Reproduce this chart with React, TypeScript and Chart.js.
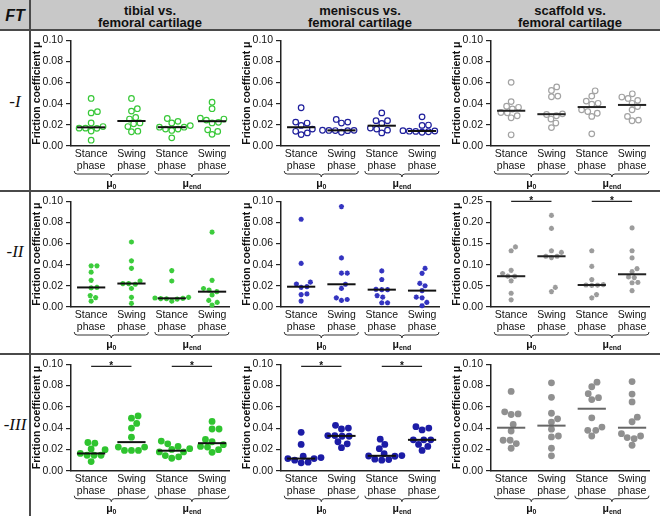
import React, { useEffect, useRef } from 'react';
import { Chart, registerables } from 'chart.js';
Chart.register(...registerables);

const FONT = "'Liberation Sans', Arial, Helvetica, sans-serif";

// ---------- texts ----------
const cornerLabel = 'FT';
const columnTitles = [
  ['tibial vs.', 'femoral cartilage'],
  ['meniscus vs.', 'femoral cartilage'],
  ['scaffold vs.', 'femoral cartilage'],
];
const rowLabels = ['-I', '-II', '-III'];
const categoryLines = [
  ['Stance', 'phase'],
  ['Swing', 'phase'],
  ['Stance', 'phase'],
  ['Swing', 'phase'],
];
const groupPairs = [
  [0, 1],
  [2, 3],
];
const groupLabels = [
  ['μ', '0'],
  ['μ', 'end'],
];
const yTitle = 'Friction coefficient μ';
const sigSymbol = '*';

// ---------- axes ----------
const yMaxes = [
  [0.1, 0.1, 0.1],
  [0.1, 0.1, 0.25],
  [0.1, 0.1, 0.1],
];
const ySteps = [
  [0.02, 0.02, 0.02],
  [0.02, 0.02, 0.05],
  [0.02, 0.02, 0.02],
];
const sigMarks: number[][][][] = [
  [[], [], []],
  [[], [], [[0, 1], [2, 3]]],
  [[[0, 1], [2, 3]], [[0, 1], [2, 3]], []],
];
const sigLevels = [
  [0, 0, 0],
  [0, 0, 0.25],
  [0.098, 0.098, 0],
];

// ---------- data: [stance μ0, swing μ0, stance μend, swing μend] ----------
const tibial_I = [
  [0.045, 0.0325, 0.0313, 0.0218, 0.0184, 0.0169, 0.0169, 0.0167, 0.0141, 0.0055],
  [0.045, 0.0353, 0.033, 0.027, 0.0255, 0.0218, 0.021, 0.0184, 0.014, 0.0135],
  [0.026, 0.0233, 0.0218, 0.0193, 0.0178, 0.0178, 0.016, 0.016, 0.0147, 0.0077],
  [0.0414, 0.0353, 0.0264, 0.0255, 0.0245, 0.0224, 0.0218, 0.0153, 0.0138, 0.011],
];
const meniscus_I = [
  [0.0362, 0.0226, 0.0217, 0.0195, 0.016, 0.0139, 0.0124, 0.0108],
  [0.0251, 0.0226, 0.0217, 0.0149, 0.0148, 0.0147, 0.0146, 0.0145, 0.013],
  [0.0313, 0.024, 0.024, 0.0214, 0.017, 0.016, 0.015, 0.0124],
  [0.0276, 0.0198, 0.0195, 0.0145, 0.0142, 0.014, 0.0138, 0.0135, 0.013],
];
const scaffold_I = [
  [0.0602, 0.042, 0.0376, 0.0366, 0.035, 0.0317, 0.0314, 0.0286, 0.0267, 0.0106],
  [0.0559, 0.0525, 0.0472, 0.0466, 0.0304, 0.0298, 0.0286, 0.0255, 0.0217, 0.0174],
  [0.0522, 0.0472, 0.0425, 0.0404, 0.0395, 0.0342, 0.0326, 0.031, 0.028, 0.0115],
  [0.0494, 0.0463, 0.045, 0.0432, 0.0404, 0.0373, 0.0342, 0.028, 0.0245, 0.0239],
];
const tibial_II = [
  [0.039, 0.039, 0.0329, 0.0252, 0.0185, 0.018, 0.0108, 0.0089, 0.0055],
  [0.0615, 0.0437, 0.0366, 0.0246, 0.0222, 0.0222, 0.0215, 0.0175, 0.0092, 0.0034],
  [0.0345, 0.0246, 0.0092, 0.0085, 0.0082, 0.008, 0.0078, 0.0075, 0.0055],
  [0.0708, 0.0252, 0.0175, 0.016, 0.0145, 0.0114, 0.0062, 0.0043, 0.0018],
];
const meniscus_II = [
  [0.083, 0.0412, 0.0235, 0.0217, 0.0192, 0.0186, 0.0124, 0.0118, 0.0056],
  [0.095, 0.0464, 0.032, 0.032, 0.0215, 0.0176, 0.0087, 0.0071, 0.0062],
  [0.0341, 0.026, 0.0167, 0.0164, 0.0164, 0.0108, 0.0093, 0.004, 0.004],
  [0.0365, 0.0319, 0.0223, 0.0201, 0.0155, 0.0093, 0.0087, 0.0043, 0.0012],
];
const scaffold_II = [
  [0.142, 0.133, 0.0867, 0.079, 0.0728, 0.0725, 0.0619, 0.0325, 0.017],
  [0.2167, 0.1858, 0.133, 0.129, 0.12, 0.12, 0.117, 0.0464, 0.0364],
  [0.133, 0.096, 0.065, 0.053, 0.052, 0.051, 0.0515, 0.0294, 0.0217],
  [0.187, 0.133, 0.116, 0.0906, 0.0836, 0.0712, 0.0697, 0.058, 0.0573, 0.0387],
];
const tibial_III = [
  [0.0265, 0.0259, 0.0204, 0.0198, 0.0162, 0.0145, 0.0145, 0.0145, 0.0086],
  [0.0515, 0.0494, 0.0444, 0.0401, 0.0315, 0.0222, 0.0222, 0.0191, 0.0191, 0.0191],
  [0.0278, 0.0253, 0.0228, 0.0207, 0.02, 0.0176, 0.0176, 0.0142, 0.013, 0.0117],
  [0.0463, 0.0392, 0.0392, 0.0293, 0.0272, 0.0245, 0.0228, 0.0222, 0.0198, 0.0173],
];
const meniscus_III = [
  [0.0361, 0.0247, 0.0136, 0.0123, 0.0114, 0.0114, 0.0099, 0.008, 0.0074],
  [0.0426, 0.0401, 0.0392, 0.033, 0.033, 0.0324, 0.0324, 0.0272, 0.0253, 0.0216],
  [0.0296, 0.0247, 0.0207, 0.016, 0.0142, 0.0138, 0.0136, 0.0108, 0.0105, 0.0099],
  [0.0414, 0.0401, 0.0383, 0.029, 0.029, 0.029, 0.0247, 0.0228, 0.0191],
];
const scaffold_III = [
  [0.0745, 0.0553, 0.0534, 0.0528, 0.0435, 0.0373, 0.0286, 0.0286, 0.0255, 0.0211],
  [0.0826, 0.069, 0.054, 0.0488, 0.0457, 0.039, 0.0326, 0.0317, 0.0211, 0.014],
  [0.0832, 0.0789, 0.0724, 0.0686, 0.0668, 0.0497, 0.041, 0.0379, 0.0379, 0.0326],
  [0.0838, 0.072, 0.0646, 0.0503, 0.046, 0.0348, 0.0326, 0.0311, 0.0301, 0.0239],
];
const panelData = [
  [tibial_I, meniscus_I, scaffold_I],
  [tibial_II, meniscus_II, scaffold_II],
  [tibial_III, meniscus_III, scaffold_III],
];

// ---------- styles ----------
const palette = [
  ['#38c838', '#1f1f9c', '#a3a3a3'],
  ['#3ccc3c', '#3434c0', '#9c9c9c'],
  ['#2fc42f', '#1c1ca6', '#909090'],
];
const medianColors = [
  ['#111', '#111', '#222'],
  ['#111', '#111', '#222'],
  ['#111', '#111', '#666'],
];
const rowStyles = ['open', 'star', 'filled'];

// ---------- layout ----------
const colLefts = [31, 241, 451];
const colWidths = [210, 210, 209];
const rowTops = [31, 192, 355];
const rowHeights = [159, 161, 161];
const padTops = [6.5, 7, 7.7];
const padBottoms = [44, 46, 45.3];
const AXIS_W = 40;
const PLOT_W = 158;
const X_MIN = -0.5;
const X_MAX = 3.42;

function median(a: number[]) {
  const s = [...a].sort((p, q) => p - q);
  const n = s.length;
  return n % 2 ? s[(n - 1) / 2] : (s[n / 2 - 1] + s[n / 2]) / 2;
}

// beeswarm: horizontal offsets (px) so points don't overlap
function swarm(values: number[], pxPerVal: number, diam: number): number[] {
  const order = values.map((_, i) => i).sort((a, b) => values[a] - values[b]);
  const placed: { x: number; y: number }[] = [];
  const xs = new Array(values.length).fill(0);
  for (const i of order) {
    const y = values[i] * pxPerVal;
    const iv: [number, number][] = [];
    for (const p of placed) {
      const dy = Math.abs(p.y - y);
      if (dy < diam) {
        const dx = Math.sqrt(diam * diam - dy * dy);
        iv.push([p.x - dx, p.x + dx]);
      }
    }
    const cands = [0];
    iv.forEach(([a, b]) => cands.push(a, b));
    cands.sort((a, b) => Math.abs(a) - Math.abs(b) || b - a);
    let best = 0;
    for (const c of cands) {
      if (iv.every(([a, b]) => c <= a + 1e-6 || c >= b - 1e-6)) {
        best = c;
        break;
      }
    }
    placed.push({ x: best, y });
    xs[i] = best;
  }
  return xs;
}

function drawBrace(ctx: CanvasRenderingContext2D, x1: number, x2: number, y0: number) {
  const r = 3;
  const xm = (x1 + x2) / 2;
  ctx.beginPath();
  ctx.moveTo(x1, y0);
  ctx.quadraticCurveTo(x1, y0 + r, x1 + r, y0 + r);
  ctx.lineTo(xm - r, y0 + r);
  ctx.quadraticCurveTo(xm, y0 + r, xm, y0 + 2 * r);
  ctx.quadraticCurveTo(xm, y0 + r, xm + r, y0 + r);
  ctx.lineTo(x2 - r, y0 + r);
  ctx.quadraticCurveTo(x2, y0 + r, x2, y0);
  ctx.stroke();
}

function Panel({ r, c }: { r: number; c: number }) {
  const ref = useRef<HTMLCanvasElement>(null);
  useEffect(() => {
    const canvas = ref.current;
    if (!canvas) return;
    const values = panelData[r][c];
    const yMax = yMaxes[r][c];
    const plotH = rowHeights[r] - padTops[r] - padBottoms[r];
    const pxPerVal = plotH / yMax;
    const pxPerUnit = PLOT_W / (X_MAX - X_MIN);
    const style = rowStyles[r];
    const color = palette[r][c];
    const diam = style === 'star' ? 5.8 : style === 'open' ? 6.4 : 7;

    const pts: { x: number; y: number }[] = [];
    values.forEach((vals, i) => {
      const offs = swarm(vals, pxPerVal, diam);
      vals.forEach((v, k) => pts.push({ x: i + offs[k] / pxPerUnit, y: v }));
    });

    const datasets: any[] = [];
    values.forEach((vals, i) => {
      const m = median(vals);
      datasets.push({
        data: [
          { x: i - 0.35, y: m },
          { x: i + 0.35, y: m },
        ],
        showLine: true,
        borderColor: medianColors[r][c],
        borderWidth: 2,
        pointRadius: 0,
        pointHoverRadius: 0,
        clip: false,
      });
    });
    sigMarks[r][c].forEach(([a, b]) => {
      datasets.push({
        data: [
          { x: a, y: sigLevels[r][c] },
          { x: b, y: sigLevels[r][c] },
        ],
        showLine: true,
        borderColor: '#222',
        borderWidth: 1.3,
        pointRadius: 0,
        pointHoverRadius: 0,
        clip: false,
      });
    });
    datasets.push({
      data: pts,
      showLine: false,
      pointStyle: style === 'star' ? 'star' : 'circle',
      pointRadius: style === 'star' ? 2.6 : style === 'open' ? 2.8 : 3.4,
      pointHoverRadius: 0,
      pointBorderWidth: style === 'star' ? 1.5 : style === 'open' ? 1.2 : 0,
      borderColor: color,
      backgroundColor: style === 'open' ? 'rgba(255,255,255,0)' : color,
      clip: false,
    });

    const deco = {
      id: 'deco' + r + c,
      afterDraw(chart: any) {
        const { ctx, chartArea } = chart;
        const x = chart.scales.x;
        const y = chart.scales.y;
        const b = chartArea.bottom;
        ctx.save();
        ctx.fillStyle = '#111';
        ctx.strokeStyle = '#333';
        ctx.lineWidth = 1;
        ctx.textAlign = 'center';
        ctx.textBaseline = 'middle';
        ctx.font = `10.5px ${FONT}`;
        categoryLines.forEach((lines, i) => {
          const px = x.getPixelForValue(i);
          lines.forEach((t, k) => ctx.fillText(t, px, b + 8 + k * 12));
        });
        groupPairs.forEach(([a, bb], gi) => {
          const x1 = x.getPixelForValue(a - 0.42);
          const x2 = x.getPixelForValue(bb + 0.42);
          drawBrace(ctx, x1, x2, b + 25);
          const cx = (x1 + x2) / 2;
          const [base, sub] = groupLabels[gi];
          ctx.font = `bold 10.5px ${FONT}`;
          const wb = ctx.measureText(base).width;
          ctx.font = `bold 7px ${FONT}`;
          const ws = ctx.measureText(sub).width;
          const start = cx - (wb + ws) / 2;
          ctx.textAlign = 'left';
          ctx.font = `bold 10.5px ${FONT}`;
          ctx.fillText(base, start, b + 38);
          ctx.font = `bold 7px ${FONT}`;
          ctx.fillText(sub, start + wb, b + 41);
          ctx.textAlign = 'center';
        });
        ctx.font = `bold 10px ${FONT}`;
        ctx.textBaseline = 'alphabetic';
        sigMarks[r][c].forEach(([a, bb]) => {
          const px = x.getPixelForValue((a + bb) / 2);
          const py = y.getPixelForValue(sigLevels[r][c]);
          ctx.fillText(sigSymbol, px, py + 3);
        });
        ctx.restore();
      },
    };

    const chart = new Chart(canvas, {
      type: 'scatter',
      data: { datasets },
      options: {
        responsive: false,
        animation: false,
        devicePixelRatio: 1,
        events: [],
        layout: {
          padding: {
            top: padTops[r],
            bottom: padBottoms[r],
            left: 0,
            right: colWidths[c] - AXIS_W - PLOT_W,
          },
        },
        plugins: { legend: { display: false }, tooltip: { enabled: false } },
        scales: {
          x: {
            type: 'linear',
            min: X_MIN,
            max: X_MAX,
            ticks: { display: false },
            grid: { display: false, drawTicks: false },
            border: { display: true, color: '#222', width: 1.5 },
            afterFit: (s: any) => {
              s.height = 0;
            },
          },
          y: {
            type: 'linear',
            min: 0,
            max: yMax,
            ticks: {
              stepSize: ySteps[r][c],
              callback: (v: any) => Number(v).toFixed(2),
              font: { family: FONT, size: 10.5 },
              color: '#111',
              padding: 3,
            },
            grid: {
              display: true,
              drawOnChartArea: false,
              drawTicks: true,
              tickLength: 5,
              color: '#222',
              lineWidth: 1.2,
            },
            border: { display: true, color: '#222', width: 1.5 },
            title: {
              display: true,
              text: yTitle,
              font: { family: FONT, size: 10.5, weight: 'bold' },
              color: '#111',
              padding: 0,
            },
            afterFit: (s: any) => {
              s.width = AXIS_W;
            },
          },
        },
      } as any,
      plugins: [deco],
    });
    return () => chart.destroy();
  }, [r, c]);
  return (
    <canvas
      ref={ref}
      width={colWidths[c]}
      height={rowHeights[r]}
      style={{ position: 'absolute', left: colLefts[c], top: rowTops[r], width: colWidths[c], height: rowHeights[r] }}
    />
  );
}

const LINE = '#4a4a4a';

export default function App() {
  return (
    <div style={{ position: 'relative', width: 660, height: 516, overflow: 'hidden', background: '#fff', fontFamily: FONT }}>
      <style>{`body{margin:0;}`}</style>
      <div style={{ position: 'absolute', left: 0, top: 0, width: 660, height: 29, background: '#c8c8c8' }} />
      <div style={{ position: 'absolute', left: 0, top: 29, width: 660, height: 2, background: LINE }} />
      <div style={{ position: 'absolute', left: 0, top: 190, width: 660, height: 2, background: LINE }} />
      <div style={{ position: 'absolute', left: 0, top: 353, width: 660, height: 2, background: LINE }} />
      <div style={{ position: 'absolute', left: 29, top: 0, width: 2, height: 516, background: LINE }} />
      <div
        style={{
          position: 'absolute', left: 0, top: 7.6, width: 30, textAlign: 'center',
          font: `italic bold 16px ${FONT}`, lineHeight: '16px', color: '#111',
        }}
      >
        {cornerLabel}
      </div>
      {columnTitles.map((lines, c) =>
        lines.map((t, k) => (
          <div
            key={`t${c}${k}`}
            style={{
              position: 'absolute', left: colLefts[c] + AXIS_W - 40, top: k === 0 ? 4 : 16.3,
              width: PLOT_W + 80, textAlign: 'center', font: `bold 13px ${FONT}`, lineHeight: '13px',
              color: '#111', whiteSpace: 'nowrap',
            }}
          >
            {t}
          </div>
        ))
      )}
      {rowLabels.map((t, r) => (
        <div
          key={`r${r}`}
          style={{
            position: 'absolute', left: 0, top: [92.8, 242.8, 415.8][r], width: 30, textAlign: 'center',
            font: `italic 17px 'Liberation Serif', 'DejaVu Serif', serif`, lineHeight: '17px', color: '#111',
          }}
        >
          {t}
        </div>
      ))}
      {[0, 1, 2].map((r) => [0, 1, 2].map((c) => <Panel key={`p${r}${c}`} r={r} c={c} />))}
    </div>
  );
}
